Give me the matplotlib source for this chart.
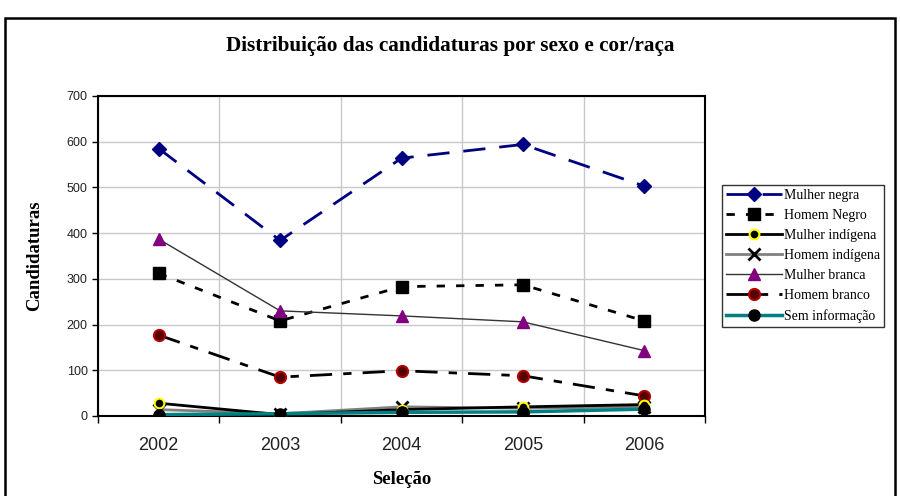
import matplotlib
matplotlib.use("Agg")
import matplotlib.pyplot as plt
from matplotlib.patches import Rectangle
import numpy as np

years = ["2002", "2003", "2004", "2005", "2006"]
mulher_negra = [585, 384, 564, 594, 503]
homem_negro = [312, 208, 283, 287, 208]
mulher_indigena = [28, 3, 14, 20, 25]
homem_indigena = [14, 5, 20, 17, 20]
mulher_branca = [387, 230, 219, 206, 143]
homem_branco = [177, 85, 99, 88, 44]
sem_informacao = [3, 5, 8, 9, 15]

fig = plt.figure(figsize=(9, 4.96), dpi=100)
fig.patches.append(Rectangle((5/900, -0.05), 890/900, 1 - 18/496 + 0.05,
                             transform=fig.transFigure, fill=False,
                             edgecolor="black", linewidth=1.8))
ax = fig.add_axes([98/900, 1 - 416/496, 607/900, 320/496])
x = np.arange(len(years))

serif = ["Liberation Serif", "DejaVu Serif"]
sans = ["Liberation Sans", "DejaVu Sans"]

ax.plot(x, mulher_negra, color="#000080", lw=2, dashes=(8, 5), marker="D",
        ms=7, mfc="#000080", mec="#000080", label="Mulher negra", zorder=3)
ax.plot(x, homem_negro, color="black", lw=2, dashes=(3, 4), marker="s",
        ms=9, mfc="black", mec="black", label="Homem Negro", zorder=3)
ax.plot(x, mulher_branca, color="#333333", lw=1, marker="^",
        ms=9, mfc="#800080", mec="#800080", label="Mulher branca", zorder=3)
ax.plot(x, homem_branco, color="black", lw=2, dashes=(8, 4, 3, 4), marker="o",
        ms=8, mfc="#550000", mec="#b00000", mew=1.5, label="Homem branco", zorder=3)
ax.plot(x, homem_indigena, color="#808080", lw=2, marker="x",
        ms=8, mec="black", mew=2, label="Homem indígena", zorder=3)
ax.plot(x, mulher_indigena, color="black", lw=2, marker="o",
        ms=7, mfc="black", mec="yellow", mew=1.5, label="Mulher indígena", zorder=3)
ax.plot(x, sem_informacao, color="#008080", lw=2.5, marker="o",
        ms=8, mfc="black", mec="black", label="Sem informação", zorder=3)

ax.set_xlim(-0.5, len(years) - 0.5)
ax.set_ylim(0, 700)
ax.set_yticks(np.arange(0, 701, 100))
ax.set_xticks(x)
ax.set_xticklabels(years, family=sans, fontsize=13, color="#222222")
ax.set_xticks(np.arange(-0.5, len(years), 1), minor=True)
ax.tick_params(axis="x", which="major", length=0, pad=15)
ax.tick_params(axis="x", which="minor", length=5, direction="out", width=1)
ax.tick_params(axis="y", labelsize=9, length=4, width=1, direction="out",
               labelcolor="#222222")
for lab in ax.get_yticklabels():
    lab.set_family(sans)
ax.grid(True, axis="y", color="#c8c8c8", lw=1)
ax.grid(True, axis="x", which="minor", color="#c8c8c8", lw=1)
for s in ax.spines.values():
    s.set_linewidth(1.5)

ax.set_xlabel("Seleção", family=serif, fontweight="bold", fontsize=13.5, labelpad=12)
ax.set_ylabel("Candidaturas", family=serif, fontweight="bold", fontsize=13.5, labelpad=17)
fig.text(0.5, 1 - 46/496, "Distribuição das candidaturas por sexo e cor/raça",
         ha="center", va="center", family=serif, fontweight="bold", fontsize=15.3)

handles, labels = ax.get_legend_handles_labels()
order = ["Mulher negra", "Homem Negro", "Mulher indígena", "Homem indígena",
         "Mulher branca", "Homem branco", "Sem informação"]
hmap = dict(zip(labels, handles))
leg = fig.legend([hmap[o] for o in order], order, loc="center",
                 bbox_to_anchor=(803/900, 1 - 256/496), frameon=True,
                 prop={"family": serif, "size": 10}, handlelength=4,
                 labelspacing=0.5, borderpad=0.3, fancybox=False,
                 edgecolor="black", handletextpad=0.15, borderaxespad=0)
leg.get_frame().set_linewidth(1)

fig.savefig("out.png", dpi=100)
